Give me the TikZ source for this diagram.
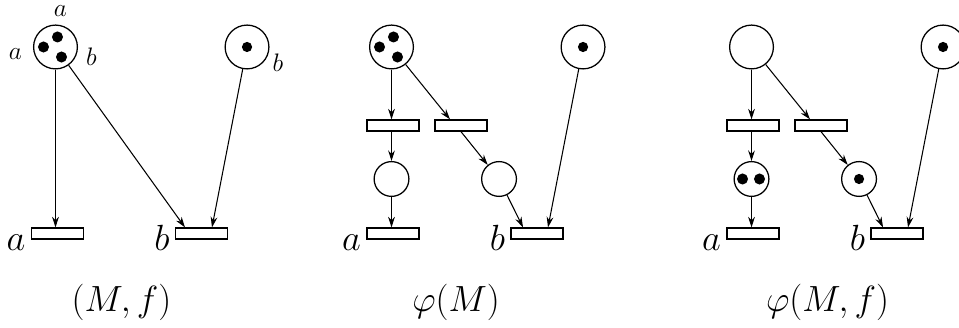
\documentclass[tikz,border=0pt]{standalone}
\usetikzlibrary{arrows.meta}
\begin{document}
\begin{tikzpicture}[
  place/.style={circle, draw, line width=0.6pt, minimum size=0.73cm, inner sep=0pt},
  splace/.style={circle, draw, line width=0.6pt, minimum size=0.58cm, inner sep=0pt},
  trans/.style={rectangle, draw, line width=0.7pt, minimum width=0.87cm,
                minimum height=0.18cm, inner sep=0pt},
  arr/.style={-{Stealth[length=5pt, width=3.2pt]}, line width=0.5pt},
  lab/.style={font=\fontsize{17}{20}\selectfont, inner sep=0pt},
  slab/.style={font=\fontsize{12}{14}\selectfont, inner sep=0pt}
]
  \clip (0,0) rectangle (15.983,-5.45);

  % (M,f)
  \node[place] (p1) at (0.925, -0.783) {};
  \node[place] (q1) at (4.117, -0.783) {};
  \node[trans] (ta1) at (0.958, -3.892) {};
  \node[trans] (tb1) at (3.358, -3.892) {};
  \fill ([shift={(0.033,0.167)}]p1.center) circle (0.092);
  \fill ([shift={(-0.2,0)}]p1.center) circle (0.092);
  \fill ([shift={(0.1,-0.167)}]p1.center) circle (0.092);
  \fill (q1.center) circle (0.085);
  \node[slab] (la1) at (1.008, -0.19) {$a$};
  \node[slab] (lb1) at (0.258, -0.9) {$a$};
  \node[slab] (lc1) at (1.525, -0.95) {$b$};
  \node[slab] (ld1) at (4.633, -1.042) {$b$};
  \draw[arr] (p1) -- (p1 |- ta1.north);
  \draw[arr] (p1) -- ([xshift=-0.275cm]tb1.north);
  \draw[arr] (q1) -- ([xshift=0.175cm]tb1.north);
  \node[lab, anchor=base east] at ([xshift=-0.08cm, yshift=-0.18cm]ta1.south west) {$a$};
  \node[lab, anchor=base east] at ([xshift=-0.08cm, yshift=-0.18cm]tb1.south west) {$b$};
  \node[lab] (cap1) at (2.025, -5.042) {$(M,f)$};

  % phi(M)
  \node[place] (p2) at (6.525, -0.783) {};
  \node[place] (q2) at (9.717, -0.783) {};
  \node[trans] (u2) at (6.55, -2.092) {};
  \node[trans] (v2) at (7.683, -2.092) {};
  \node[splace] (c2) at (6.525, -2.983) {};
  \node[splace] (d2) at (8.317, -2.983) {};
  \node[trans] (ta2) at (6.55, -3.892) {};
  \node[trans] (tb2) at (8.95, -3.892) {};
  \fill ([shift={(0.033,0.167)}]p2.center) circle (0.092);
  \fill ([shift={(-0.2,0)}]p2.center) circle (0.092);
  \fill ([shift={(0.1,-0.167)}]p2.center) circle (0.092);
  \fill (q2.center) circle (0.085);
  \draw[arr] (p2) -- (p2 |- u2.north);
  \draw[arr] (p2) -- ([xshift=-0.183cm]v2.north);
  \draw[arr] (p2 |- u2.south) -- (c2);
  \draw[arr] (v2.south) -- (d2);
  \draw[arr] (c2) -- (c2 |- ta2.north);
  \draw[arr] (d2) -- ([xshift=-0.233cm]tb2.north);
  \draw[arr] (q2) -- ([xshift=0.183cm]tb2.north);
  \node[lab, anchor=base east] at ([xshift=-0.08cm, yshift=-0.18cm]ta2.south west) {$a$};
  \node[lab, anchor=base east] at ([xshift=-0.08cm, yshift=-0.18cm]tb2.south west) {$b$};
  \node[lab] (cap2) at (7.6, -5.042) {$\varphi(M)$};

  % phi(M,f)
  \node[place] (p3) at (12.525, -0.783) {};
  \node[place] (q3) at (15.717, -0.783) {};
  \node[trans] (u3) at (12.55, -2.092) {};
  \node[trans] (v3) at (13.683, -2.092) {};
  \node[splace] (c3) at (12.525, -2.983) {};
  \node[splace] (d3) at (14.317, -2.983) {};
  \node[trans] (ta3) at (12.55, -3.892) {};
  \node[trans] (tb3) at (14.95, -3.892) {};
  \fill ([xshift=-0.15cm]c3.center) circle (0.092);
  \fill ([xshift=0.133cm]c3.center) circle (0.092);
  \fill (d3.center) circle (0.085);
  \fill (q3.center) circle (0.085);
  \draw[arr] (p3) -- (p3 |- u3.north);
  \draw[arr] (p3) -- ([xshift=-0.183cm]v3.north);
  \draw[arr] (p3 |- u3.south) -- (c3);
  \draw[arr] (v3.south) -- (d3);
  \draw[arr] (c3) -- (c3 |- ta3.north);
  \draw[arr] (d3) -- ([xshift=-0.233cm]tb3.north);
  \draw[arr] (q3) -- ([xshift=0.183cm]tb3.north);
  \node[lab, anchor=base east] at ([xshift=-0.08cm, yshift=-0.18cm]ta3.south west) {$a$};
  \node[lab, anchor=base east] at ([xshift=-0.08cm, yshift=-0.18cm]tb3.south west) {$b$};
  \node[lab] (cap3) at (13.792, -5.042) {$\varphi(M,f)$};
\end{tikzpicture}
\end{document}
